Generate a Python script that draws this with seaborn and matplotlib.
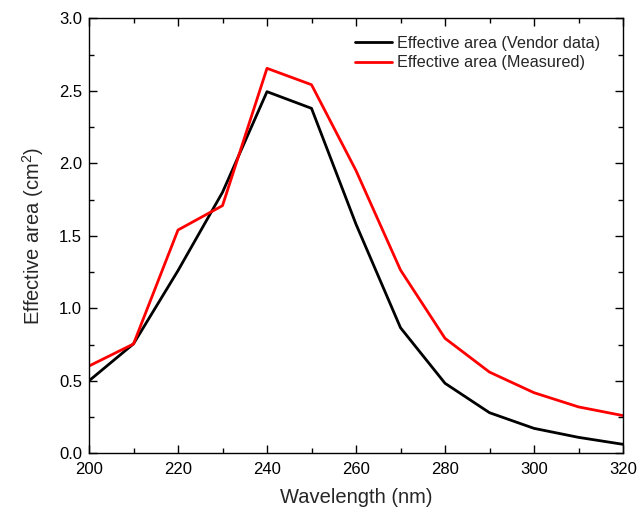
import matplotlib
matplotlib.use("Agg")
import matplotlib.pyplot as plt
import seaborn as sns
import pandas as pd
from matplotlib.ticker import MultipleLocator

wavelength = [200, 210, 220, 230, 240, 250, 260, 270, 280, 290, 300, 310, 320]
vendor = [0.50, 0.755, 1.26, 1.80, 2.494, 2.379, 1.58, 0.866, 0.483, 0.28, 0.172, 0.11, 0.062]
measured = [0.602, 0.754, 1.54, 1.708, 2.655, 2.542, 1.95, 1.264, 0.793, 0.56, 0.418, 0.32, 0.26]
labels = ["Effective area (Vendor data)", "Effective area (Measured)"]

sns.set_theme(style="ticks")
plt.rcParams['font.family'] = ['Liberation Sans', 'DejaVu Sans']
plt.rcParams['mathtext.fontset'] = 'custom'
plt.rcParams['mathtext.rm'] = 'Liberation Sans'

df = pd.DataFrame({
    "Wavelength": wavelength * 2,
    "Area": vendor + measured,
    "Series": [labels[0]] * len(wavelength) + [labels[1]] * len(wavelength),
})

fig = plt.figure(figsize=(6.38, 5.11), dpi=100)
ax = fig.add_axes([0.1395, 0.1129, 0.837, 0.8513])
sns.lineplot(data=df, x="Wavelength", y="Area", hue="Series",
             palette=["black", "#ff0000"], linewidth=2, ax=ax, sort=False)

ax.set_xlim(200, 320)
ax.set_ylim(0, 3.0)
ax.xaxis.set_major_locator(MultipleLocator(20))
ax.xaxis.set_minor_locator(MultipleLocator(10))
ax.yaxis.set_major_locator(MultipleLocator(0.5))
ax.yaxis.set_minor_locator(MultipleLocator(0.25))
ax.yaxis.set_major_formatter(matplotlib.ticker.FormatStrFormatter('%.1f'))
ax.tick_params(which='both', direction='in', top=True, right=True, color='black', width=1)
ax.tick_params(which='major', length=6, labelsize=12, labelcolor='black')
ax.tick_params(axis='x', which='major', pad=6)
ax.tick_params(axis='y', which='major', pad=5)
ax.tick_params(which='minor', length=3.5)
for s in ax.spines.values():
    s.set_color('black')
    s.set_linewidth(1)

ax.set_xlabel("Wavelength (nm)", fontsize=14.5, labelpad=8)
ax.set_ylabel("Effective area (cm$^\\mathregular{2}$)", fontsize=14.5, labelpad=9)

leg = ax.legend(loc='upper right', bbox_to_anchor=(1.0, 1.012), frameon=False,
                fontsize=11.7, handlelength=2.3, handletextpad=0.3,
                borderaxespad=1.0, labelspacing=0.27)
leg.set_title(None)

fig.savefig("out.png", dpi=100)
